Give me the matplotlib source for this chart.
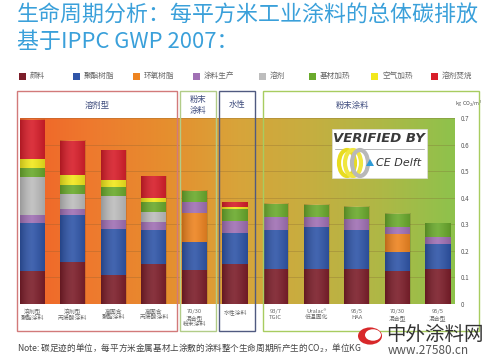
import matplotlib
matplotlib.use("Agg")
import matplotlib.pyplot as plt
import numpy as np
from matplotlib.colors import LinearSegmentedColormap
from matplotlib.patches import Rectangle, Circle, Ellipse, Polygon

plt.rcParams['font.family'] = ['Noto Sans CJK SC', 'DejaVu Sans']

# stacked segments, bottom to top, kg CO2 / m2
bar_labels = ["溶剂型\n聚酯涂料", "溶剂型\n丙烯酸涂料", "高固含\n聚酯涂料", "高固含\n丙烯酸涂料",
              "70/30\n混合型\n粉末涂料", "水性涂料", "93/7\nTGIC", "Uralac®\n低温固化",
              "95/5\nHAA", "70/30\n混合型", "95/5\n混合型"]
pigment    = [0.125, 0.158, 0.109, 0.151, 0.128, 0.151, 0.131, 0.131, 0.131, 0.125, 0.131]
polyester  = [0.181, 0.177, 0.173, 0.128, 0.107, 0.118, 0.148, 0.157, 0.148, 0.072, 0.095]
epoxy      = [0, 0, 0, 0, 0.109, 0, 0, 0, 0, 0.065, 0]
production = [0.029, 0.024, 0.036, 0.031, 0.038, 0.044, 0.050, 0.039, 0.040, 0.029, 0.027]
solvent    = [0.142, 0.054, 0.087, 0.035, 0, 0, 0, 0, 0, 0, 0]
substrate  = [0.034, 0.036, 0.036, 0.039, 0.045, 0.043, 0.048, 0.046, 0.047, 0.048, 0.050]
air_heat   = [0.034, 0.035, 0.025, 0.015, 0, 0.009, 0, 0, 0, 0, 0]
incinerate = [0.148, 0.130, 0.113, 0.082, 0, 0.017, 0, 0, 0, 0, 0]

series = [pigment, polyester, epoxy, production, solvent, substrate, air_heat, incinerate]
names = ["颜料", "聚酯树脂", "环氧树脂", "涂料生产", "溶剂", "基材加热", "空气加热", "溶剂焚烧"]
colors = ["#7c1e2a", "#2f55a8", "#ee8420", "#a070b4", "#bdbdbd", "#6aaa2c", "#f2e81c", "#d81e2a"]
yticks = [0, 0.1, 0.2, 0.3, 0.4, 0.5, 0.6, 0.7]

W, H = 500, 358
fig = plt.figure(figsize=(W / 100, H / 100), dpi=100)
fig.patch.set_facecolor("white")

def fx(x):
    return x / W

def fy(y):
    return 1 - y / H

# plot area
ax = fig.add_axes([fx(20), fy(304), (455 - 20) / W, (304 - 118) / H])
x = np.arange(len(pigment))
xlim = (-0.3, 10.42)

grad = LinearSegmentedColormap.from_list("bg", ["#f06228", "#ee7a2e", "#e68e2e", "#d8a43a",
                                                "#c6ae40", "#aeb846", "#8ec24c"])
ax.imshow(np.linspace(0, 1, 256).reshape(1, -1), cmap=grad, aspect="auto",
          extent=[xlim[0], xlim[1], 0, 0.7], zorder=0)
for t in yticks[1:]:
    ax.axhline(t, color="#7a5a30", alpha=0.3, lw=0.6, zorder=1)

bottom = np.zeros(len(x))
for vals, c in zip(series, colors):
    ax.bar(x, vals, bottom=bottom, width=0.62, color=c, zorder=2, linewidth=0)
    bottom += np.array(vals)

# cylinder shading on bars
shade = LinearSegmentedColormap.from_list("sh", [(0, 0, 0, 0.2), (1, 1, 1, 0.1), (0, 0, 0, 0.12)])
for xi, h in zip(x, bottom):
    ax.imshow(np.linspace(0, 1, 64).reshape(1, -1), cmap=shade, aspect="auto",
              extent=[xi - 0.31, xi + 0.31, 0, h], zorder=3)
ax.set_xlim(*xlim)
ax.set_ylim(0, 0.7)

for s in ax.spines.values():
    s.set_visible(False)
ax.set_xticks([])
ax.yaxis.tick_right()
ax.set_yticks(yticks)
ax.set_yticklabels([f"{t:g}" for t in yticks], fontsize=4.5, color="#555555")
ax.tick_params(axis="y", length=0, pad=4)

for xi, lab in zip(x, bar_labels):
    ax.text(xi, -0.02, lab, ha="center", va="top", fontsize=4.2, color="#666666",
            linespacing=1.15)

fig.text(fx(455), fy(104), "kg CO$_2$/m$^2$", fontsize=3.8, color="#555555", ha="left", va="center")

# group boxes
boxes = [(17, 177, "#d27a7a"), (180, 216, "#b2cc88"), (219, 255, "#505a80"), (263, 479, "#a8cc60")]
for x0, x1, ec in boxes:
    fig.add_artist(Rectangle((fx(x0), fy(331)), (x1 - x0) / W, (331 - 91) / H, fill=False,
                             edgecolor=ec, lw=1.0, transform=fig.transFigure, zorder=5))
heads = [(97, "溶剂型"), (198, "粉末\n涂料"), (237, "水性"), (352, "粉末涂料")]
for hx, ht in heads:
    fig.text(fx(hx), fy(105), ht, ha="center", va="center", fontsize=6, color="#3c4a7c",
             linespacing=1.2)

# title
fig.text(fx(17), fy(15), "生命周期分析：每平方米工业涂料的总体碳排放", fontsize=15.8,
         color="#3aa0da", ha="left", va="center")
fig.text(fx(17), fy(42), "基于IPPC GWP 2007：", fontsize=15.8, color="#3aa0da",
         ha="left", va="center")

# legend row
leg_x = [22, 76, 136, 196, 262, 312, 374, 434]
for lx, c, n in zip(leg_x, colors, names):
    fig.add_artist(Rectangle((fx(lx - 3), fy(79.5)), 7 / W, 7 / H, facecolor=c,
                             edgecolor="none", transform=fig.transFigure))
    fig.text(fx(lx + 8), fy(76), n, fontsize=5.5, color="#666666", ha="left", va="center")

# verified-by badge
fig.add_artist(Rectangle((fx(332), fy(178)), 95 / W, 49 / H, facecolor="white",
                         edgecolor="#dddddd", lw=0.5, transform=fig.transFigure, zorder=6))
fig.text(fx(379), fy(139), "VERIFIED BY", fontsize=9.5, fontweight="bold", style="italic",
         color="#3a3a3a", ha="center", va="center", family="DejaVu Sans", zorder=7)
fig.add_artist(plt.Line2D([fx(335), fx(424)], [fy(149), fy(149)], color="#999999", lw=0.5, zorder=7))
for ex, ec in [(347, "#e8dc20"), (353, "#f0e640"), (360, "#b8b8b8")]:
    fig.add_artist(Ellipse((fx(ex), fy(163)), 16 / W, 26 / H, fill=False, edgecolor=ec, lw=3,
                           transform=fig.transFigure, zorder=7))
fig.add_artist(Polygon([(fx(366), fy(166)), (fx(374), fy(166)), (fx(370), fy(159))],
                       closed=True, facecolor="#2e9ad6", transform=fig.transFigure, zorder=7))
fig.text(fx(376), fy(163), "CE Delft", fontsize=8, style="italic", color="#333333",
         ha="left", va="center", family="DejaVu Sans", zorder=7)

# note
fig.text(fx(17), fy(347), "Note: 碳足迹的单位，每平方米金属基材上涂敷的涂料整个生命周期所产生的CO$_2$，单位KG",
         fontsize=6.2, color="#444444", ha="left", va="center")

# watermark
fig.add_artist(Circle((fx(370), fy(336)), 12 / W, facecolor="#d8282a", edgecolor="none",
                      transform=fig.transFigure, zorder=8))
fig.add_artist(Circle((fx(373), fy(335)), 8 / W, facecolor="white", edgecolor="none",
                      transform=fig.transFigure, zorder=8))
fig.text(fx(386), fy(334), "中外涂料网", fontsize=14, color="#333333", ha="left", va="center",
         zorder=8)
fig.text(fx(388), fy(351), "www.27580.cn", fontsize=8.5, color="#555555", ha="left", va="center",
         zorder=8)

fig.savefig("out.png", dpi=100)
